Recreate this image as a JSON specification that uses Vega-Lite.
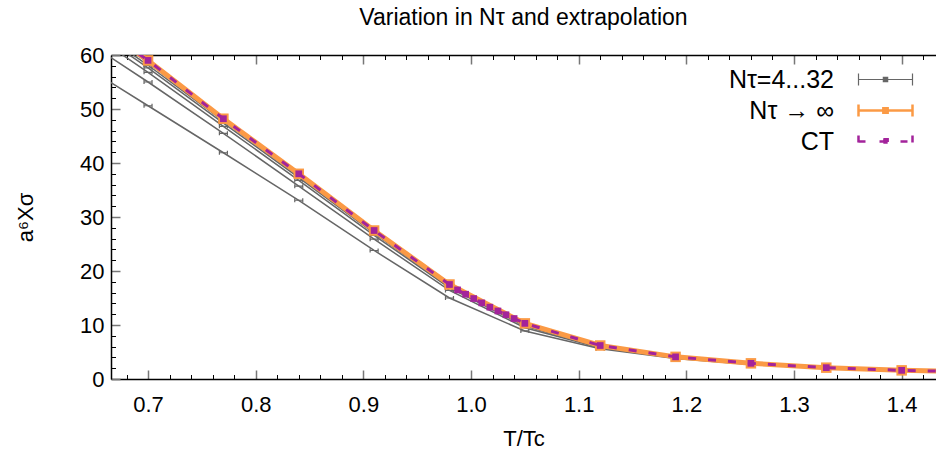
{
  "$schema": "https://vega.github.io/schema/vega-lite/v6.json",
  "width": 825,
  "height": 324,
  "autosize": {"type": "none"},
  "padding": {"left": 111, "top": 55, "right": 0, "bottom": 80},
  "background": "white",
  "config": {
    "font": "Liberation Sans",
    "view": {"stroke": null},
    "axis": {"grid": false, "domainColor": "#000000", "domainWidth": 1.5, "tickColor": "#000000", "tickWidth": 1, "labelFontSize": 22, "titleFontSize": 22, "titleFontWeight": "normal", "labelColor": "#000000", "titleColor": "#000000"}
  },
  "title": {"text": "Variation in Nτ and extrapolation", "fontSize": 23, "fontWeight": "normal", "anchor": "middle", "offset": 14, "color": "#000000"},
  "datasets": {
    "gray": [
      {"series": "Nτ=4...32", "Nt": 4, "x": 0.63, "y": 59.3}, {"series": "Nτ=4...32", "Nt": 4, "x": 0.70, "y": 50.6}, {"series": "Nτ=4...32", "Nt": 4, "x": 0.77, "y": 41.9}, {"series": "Nτ=4...32", "Nt": 4, "x": 0.84, "y": 33.1}, {"series": "Nτ=4...32", "Nt": 4, "x": 0.91, "y": 23.8}, {"series": "Nτ=4...32", "Nt": 4, "x": 0.98, "y": 15.0}, {"series": "Nτ=4...32", "Nt": 4, "x": 1.05, "y": 8.9}, {"series": "Nτ=4...32", "Nt": 4, "x": 1.12, "y": 5.6}, {"series": "Nτ=4...32", "Nt": 4, "x": 1.19, "y": 3.8}, {"series": "Nτ=4...32", "Nt": 4, "x": 1.26, "y": 2.7}, {"series": "Nτ=4...32", "Nt": 4, "x": 1.33, "y": 2.0}, {"series": "Nτ=4...32", "Nt": 4, "x": 1.40, "y": 1.5}, {"series": "Nτ=4...32", "Nt": 4, "x": 1.47, "y": 1.2},
      {"series": "Nτ=4...32", "Nt": 6, "x": 0.63, "y": 64.2}, {"series": "Nτ=4...32", "Nt": 6, "x": 0.70, "y": 55.0}, {"series": "Nτ=4...32", "Nt": 6, "x": 0.77, "y": 45.5}, {"series": "Nτ=4...32", "Nt": 6, "x": 0.84, "y": 35.7}, {"series": "Nτ=4...32", "Nt": 6, "x": 0.91, "y": 25.9}, {"series": "Nτ=4...32", "Nt": 6, "x": 0.98, "y": 16.4}, {"series": "Nτ=4...32", "Nt": 6, "x": 1.05, "y": 9.5}, {"series": "Nτ=4...32", "Nt": 6, "x": 1.12, "y": 5.8}, {"series": "Nτ=4...32", "Nt": 6, "x": 1.19, "y": 3.9}, {"series": "Nτ=4...32", "Nt": 6, "x": 1.26, "y": 2.8}, {"series": "Nτ=4...32", "Nt": 6, "x": 1.33, "y": 2.0}, {"series": "Nτ=4...32", "Nt": 6, "x": 1.40, "y": 1.5}, {"series": "Nτ=4...32", "Nt": 6, "x": 1.47, "y": 1.2},
      {"series": "Nτ=4...32", "Nt": 8, "x": 0.63, "y": 66.3}, {"series": "Nτ=4...32", "Nt": 8, "x": 0.70, "y": 56.8}, {"series": "Nτ=4...32", "Nt": 8, "x": 0.77, "y": 46.8}, {"series": "Nτ=4...32", "Nt": 8, "x": 0.84, "y": 36.8}, {"series": "Nτ=4...32", "Nt": 8, "x": 0.91, "y": 26.6}, {"series": "Nτ=4...32", "Nt": 8, "x": 0.98, "y": 16.9}, {"series": "Nτ=4...32", "Nt": 8, "x": 1.05, "y": 9.8}, {"series": "Nτ=4...32", "Nt": 8, "x": 1.12, "y": 5.9}, {"series": "Nτ=4...32", "Nt": 8, "x": 1.19, "y": 4.0}, {"series": "Nτ=4...32", "Nt": 8, "x": 1.26, "y": 2.8}, {"series": "Nτ=4...32", "Nt": 8, "x": 1.33, "y": 2.1}, {"series": "Nτ=4...32", "Nt": 8, "x": 1.40, "y": 1.6}, {"series": "Nτ=4...32", "Nt": 8, "x": 1.47, "y": 1.2},
      {"series": "Nτ=4...32", "Nt": 12, "x": 0.63, "y": 67.3}, {"series": "Nτ=4...32", "Nt": 12, "x": 0.70, "y": 57.6}, {"series": "Nτ=4...32", "Nt": 12, "x": 0.77, "y": 47.4}, {"series": "Nτ=4...32", "Nt": 12, "x": 0.84, "y": 37.3}, {"series": "Nτ=4...32", "Nt": 12, "x": 0.91, "y": 27.0}, {"series": "Nτ=4...32", "Nt": 12, "x": 0.98, "y": 17.1}, {"series": "Nτ=4...32", "Nt": 12, "x": 1.05, "y": 10.0}, {"series": "Nτ=4...32", "Nt": 12, "x": 1.12, "y": 6.0}, {"series": "Nτ=4...32", "Nt": 12, "x": 1.19, "y": 4.0}, {"series": "Nτ=4...32", "Nt": 12, "x": 1.26, "y": 2.8}, {"series": "Nτ=4...32", "Nt": 12, "x": 1.33, "y": 2.1}, {"series": "Nτ=4...32", "Nt": 12, "x": 1.40, "y": 1.6}, {"series": "Nτ=4...32", "Nt": 12, "x": 1.47, "y": 1.2},
      {"series": "Nτ=4...32", "Nt": 16, "x": 0.63, "y": 67.8}, {"series": "Nτ=4...32", "Nt": 16, "x": 0.70, "y": 58.1}, {"series": "Nτ=4...32", "Nt": 16, "x": 0.77, "y": 47.8}, {"series": "Nτ=4...32", "Nt": 16, "x": 0.84, "y": 37.6}, {"series": "Nτ=4...32", "Nt": 16, "x": 0.91, "y": 27.2}, {"series": "Nτ=4...32", "Nt": 16, "x": 0.98, "y": 17.3}, {"series": "Nτ=4...32", "Nt": 16, "x": 1.05, "y": 10.1}, {"series": "Nτ=4...32", "Nt": 16, "x": 1.12, "y": 6.0}, {"series": "Nτ=4...32", "Nt": 16, "x": 1.19, "y": 4.1}, {"series": "Nτ=4...32", "Nt": 16, "x": 1.26, "y": 2.9}, {"series": "Nτ=4...32", "Nt": 16, "x": 1.33, "y": 2.1}, {"series": "Nτ=4...32", "Nt": 16, "x": 1.40, "y": 1.6}, {"series": "Nτ=4...32", "Nt": 16, "x": 1.47, "y": 1.2},
      {"series": "Nτ=4...32", "Nt": 32, "x": 0.63, "y": 68.3}, {"series": "Nτ=4...32", "Nt": 32, "x": 0.70, "y": 58.6}, {"series": "Nτ=4...32", "Nt": 32, "x": 0.77, "y": 48.0}, {"series": "Nτ=4...32", "Nt": 32, "x": 0.84, "y": 37.9}, {"series": "Nτ=4...32", "Nt": 32, "x": 0.91, "y": 27.4}, {"series": "Nτ=4...32", "Nt": 32, "x": 0.98, "y": 17.4}, {"series": "Nτ=4...32", "Nt": 32, "x": 1.05, "y": 10.2}, {"series": "Nτ=4...32", "Nt": 32, "x": 1.12, "y": 6.1}, {"series": "Nτ=4...32", "Nt": 32, "x": 1.19, "y": 4.1}, {"series": "Nτ=4...32", "Nt": 32, "x": 1.26, "y": 2.9}, {"series": "Nτ=4...32", "Nt": 32, "x": 1.33, "y": 2.1}, {"series": "Nτ=4...32", "Nt": 32, "x": 1.40, "y": 1.6}, {"series": "Nτ=4...32", "Nt": 32, "x": 1.47, "y": 1.2}
    ],
    "ext": [
      {"series": "Nτ → ∞", "x": 0.63, "y": 68.8}, {"series": "Nτ → ∞", "x": 0.70, "y": 59.0}, {"series": "Nτ → ∞", "x": 0.77, "y": 48.2}, {"series": "Nτ → ∞", "x": 0.84, "y": 38.0}, {"series": "Nτ → ∞", "x": 0.91, "y": 27.5}, {"series": "Nτ → ∞", "x": 0.98, "y": 17.5}, {"series": "Nτ → ∞", "x": 1.05, "y": 10.3}, {"series": "Nτ → ∞", "x": 1.12, "y": 6.2}, {"series": "Nτ → ∞", "x": 1.19, "y": 4.1}, {"series": "Nτ → ∞", "x": 1.26, "y": 2.9}, {"series": "Nτ → ∞", "x": 1.33, "y": 2.1}, {"series": "Nτ → ∞", "x": 1.40, "y": 1.6}, {"series": "Nτ → ∞", "x": 1.47, "y": 1.3}
    ],
    "ct": [
      {"series": "CT", "x": 0.63, "y": 68.8}, {"series": "CT", "x": 0.70, "y": 59.0}, {"series": "CT", "x": 0.77, "y": 48.2}, {"series": "CT", "x": 0.84, "y": 38.0}, {"series": "CT", "x": 0.91, "y": 27.5}, {"series": "CT", "x": 0.98, "y": 17.5}, {"series": "CT", "x": 0.9875, "y": 16.5}, {"series": "CT", "x": 0.995, "y": 15.7}, {"series": "CT", "x": 1.0025, "y": 14.9}, {"series": "CT", "x": 1.01, "y": 14.1}, {"series": "CT", "x": 1.0175, "y": 13.3}, {"series": "CT", "x": 1.025, "y": 12.6}, {"series": "CT", "x": 1.0325, "y": 11.9}, {"series": "CT", "x": 1.04, "y": 11.2}, {"series": "CT", "x": 1.05, "y": 10.3}, {"series": "CT", "x": 1.12, "y": 6.2}, {"series": "CT", "x": 1.19, "y": 4.1}, {"series": "CT", "x": 1.26, "y": 2.9}, {"series": "CT", "x": 1.33, "y": 2.1}, {"series": "CT", "x": 1.40, "y": 1.6}, {"series": "CT", "x": 1.47, "y": 1.3}
    ]
  },
  "resolve": {"axis": {"x": "independent", "y": "independent"}},
  "layer": [
    {
      "mark": {"type": "rule", "strokeDash": [4, 5], "color": "#555555", "strokeWidth": 1.5},
      "encoding": {
        "x": {"datum": 1.0, "type": "quantitative", "scale": {"domain": [0.6656, 1.4319], "nice": false, "zero": false}, "axis": null}
      }
    },
    {
      "data": {"name": "gray"},
      "mark": {"type": "line", "clip": true, "strokeWidth": 1.5},
      "encoding": {
        "x": {"field": "x", "type": "quantitative",
          "axis": {"orient": "bottom", "values": [0.7, 0.8, 0.9, 1.0, 1.1, 1.2, 1.3, 1.4], "format": ".1f",
            "tickSize": -9, "tickColor": "#777777", "tickWidth": 1.5, "labelPadding": 24, "title": "T/Tc", "titlePadding": 13}},
        "y": {"field": "y", "type": "quantitative", "scale": {"domain": [0, 60], "nice": false},
          "axis": {"orient": "left", "values": [0, 10, 20, 30, 40, 50, 60],
            "tickSize": -9, "tickColor": "#777777", "tickWidth": 1.5, "labelPadding": 16, "title": "a⁶Xσ", "titlePadding": 42}},
        "detail": {"field": "Nt"},
        "color": {"field": "series", "type": "nominal",
          "scale": {"domain": ["Nτ=4...32", "Nτ → ∞", "CT"], "range": ["#666666", "#fb9a45", "#a3239b"]},
          "legend": {"title": null, "orient": "none", "legendX": 762, "legendY": 12, "padding": 0,
            "symbolType": "M-1,0H1M-1,-0.22V0.22M1,-0.22V0.22M-0.08,-0.08H0.08V0.08H-0.08Z", "symbolSize": 2916,
            "labelAlign": "right", "labelOffset": -64, "labelFontSize": 25, "labelColor": "#000000", "rowPadding": 5, "labelLimit": 300,
            "encode": {"symbols": {"update": {"fill": {"scale": "color", "field": "value"}, "strokeWidth": {"signal": "datum.value === 'Nτ=4...32' ? 1.2 : 2.5"}, "strokeDash": {"signal": "datum.value === 'CT' ? [7, 14] : [1, 0]"}}}}}}
      }
    },
    {
      "data": {"name": "gray"},
      "mark": {"type": "point", "clip": true, "shape": "M-1,0H1M-1,-0.5V0.5M1,-0.5V0.5", "size": 64, "filled": false, "strokeWidth": 1.2, "opacity": 1},
      "encoding": {
        "x": {"field": "x", "type": "quantitative",
          "axis": {"orient": "bottom", "values": [0.68,0.72,0.74,0.76,0.78,0.82,0.84,0.86,0.88,0.92,0.94,0.96,0.98,1.02,1.04,1.06,1.08,1.12,1.14,1.16,1.18,1.22,1.24,1.26,1.28,1.32,1.34,1.36,1.38,1.42],
            "labels": false, "title": null, "domain": false, "tickSize": -4.5}},
        "y": {"field": "y", "type": "quantitative",
          "axis": {"orient": "left", "values": [2,4,6,8,12,14,16,18,22,24,26,28,32,34,36,38,42,44,46,48,52,54,56,58],
            "labels": false, "title": null, "domain": false, "tickSize": -4.5}},
        "color": {"field": "series", "type": "nominal", "legend": null}
      }
    },
    {
      "data": {"name": "ext"},
      "mark": {"type": "line", "clip": true, "strokeWidth": 5},
      "encoding": {
        "x": {"field": "x", "type": "quantitative",
          "axis": {"orient": "top", "values": [0.7, 0.8, 0.9, 1.0, 1.1, 1.2, 1.3, 1.4], "labels": false, "title": null, "tickSize": -9, "tickColor": "#777777", "tickWidth": 1.5}},
        "y": {"field": "y", "type": "quantitative", "axis": null},
        "color": {"field": "series", "type": "nominal", "legend": null}
      }
    },
    {
      "data": {"name": "ext"},
      "mark": {"type": "point", "clip": true, "shape": "square", "size": 110, "filled": true, "opacity": 1},
      "encoding": {
        "x": {"field": "x", "type": "quantitative",
          "axis": {"orient": "top", "values": [0.68,0.72,0.74,0.76,0.78,0.82,0.84,0.86,0.88,0.92,0.94,0.96,0.98,1.02,1.04,1.06,1.08,1.12,1.14,1.16,1.18,1.22,1.24,1.26,1.28,1.32,1.34,1.36,1.38,1.42],
            "labels": false, "title": null, "domain": false, "tickSize": -4.5}},
        "y": {"field": "y", "type": "quantitative", "axis": null},
        "color": {"field": "series", "type": "nominal", "legend": null}
      }
    },
    {
      "data": {"name": "ct"},
      "mark": {"type": "line", "clip": true, "strokeWidth": 3, "strokeDash": [8, 12]},
      "encoding": {
        "x": {"field": "x", "type": "quantitative", "axis": null},
        "y": {"field": "y", "type": "quantitative", "axis": null},
        "color": {"field": "series", "type": "nominal", "legend": null}
      }
    },
    {
      "data": {"name": "ct"},
      "mark": {"type": "point", "clip": true, "shape": "square", "size": 45, "filled": true, "opacity": 1},
      "encoding": {
        "x": {"field": "x", "type": "quantitative", "axis": null},
        "y": {"field": "y", "type": "quantitative", "axis": null},
        "color": {"field": "series", "type": "nominal", "legend": null}
      }
    }
  ]
}
